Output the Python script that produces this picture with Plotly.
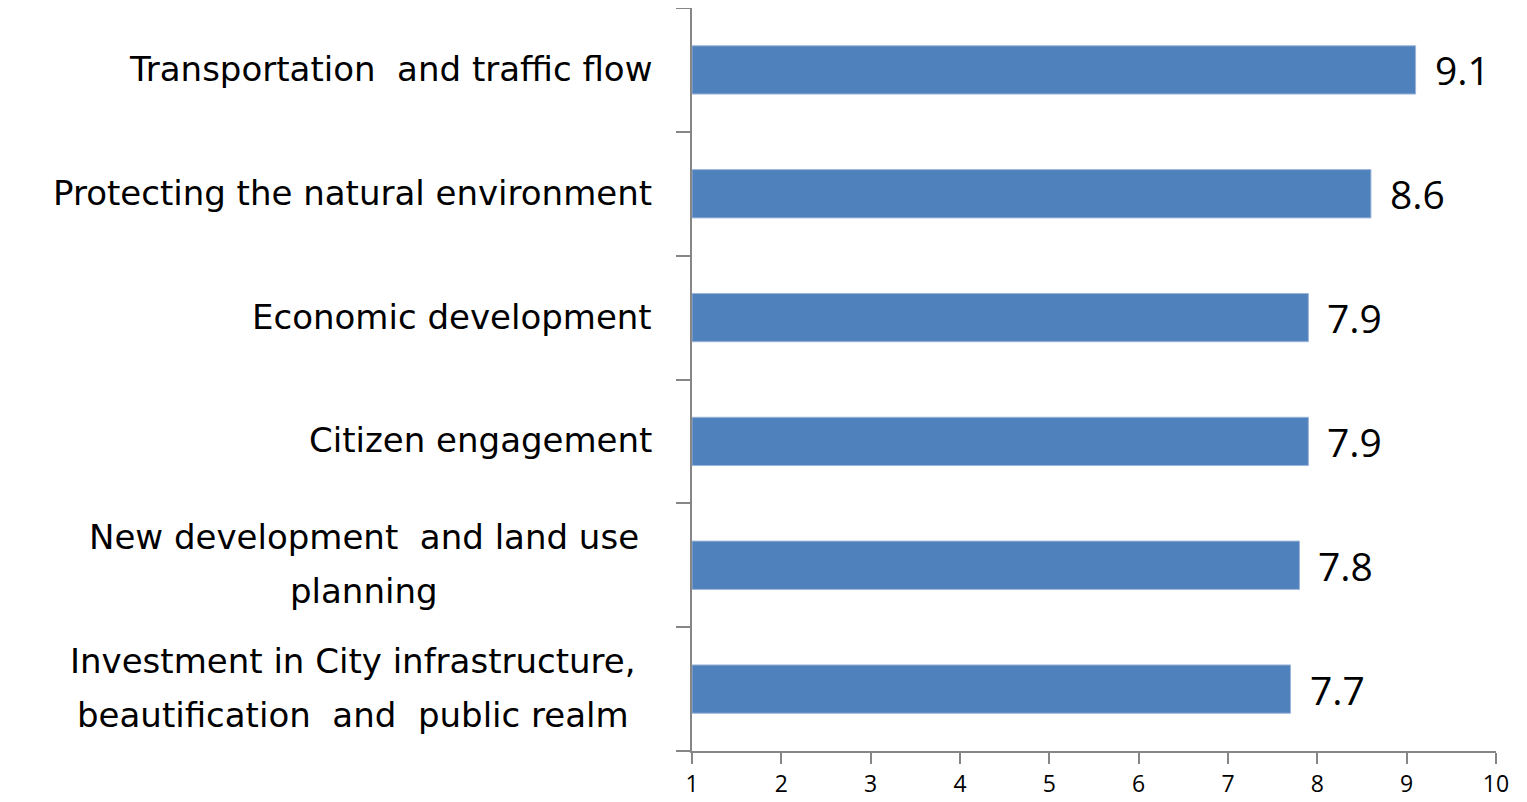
import plotly.graph_objects as go

categories = [
    "Investment in City infrastructure,<br>beautification  and  public realm",
    "New development  and land use<br>planning",
    "Citizen engagement",
    "Economic development",
    "Protecting the natural environment",
    "Transportation  and traffic flow",
]
values = [7.7, 7.8, 7.9, 7.9, 8.6, 9.1]
x_ticks = [1, 2, 3, 4, 5, 6, 7, 8, 9, 10]
AXIS_MIN = 1

LABEL_FONT = "DejaVu Sans"
FONT = "Open Sans"
BAR_COLOR = "#4F81BD"
AXIS_COLOR = "#868686"

# horizontal centre offsets (px from plot left edge) for wrapped labels
multi_line_centre = {0: -339, 1: -328}

fig = go.Figure()
fig.add_trace(go.Bar(
    x=[v - AXIS_MIN for v in values],
    y=list(range(len(categories))),
    base=AXIS_MIN,
    orientation="h",
    marker=dict(color=BAR_COLOR, line=dict(color="#9DB5D8", width=1)),
    hoverinfo="skip",
))

annotations = []
for i, v in enumerate(values):
    annotations.append(dict(
        x=v, y=i, xref="x", yref="y", text=f"{v:.1f}",
        showarrow=False, xanchor="left", yanchor="middle", xshift=17, yshift=0,
        font=dict(family=FONT, size=39, color="#000000"),
    ))
for i, c in enumerate(categories):
    lines = c.split("<br>")
    n = len(lines)
    for j, line in enumerate(lines):
        if n == 1:
            anchor, shift = "right", -38
        else:
            anchor, shift = "center", multi_line_centre[i]
        annotations.append(dict(
            x=0, y=i, xref="paper", yref="y", text=line,
            showarrow=False, xanchor=anchor, yanchor="middle",
            xshift=shift, yshift=(n - 1) * 27 - j * 54 + 1,
            font=dict(family=LABEL_FONT, size=34, color="#000000"),
        ))

fig.update_layout(
    width=1527, height=802,
    margin=dict(l=684, r=39, t=0, b=59),
    paper_bgcolor="white", plot_bgcolor="white",
    showlegend=False,
    bargap=0.61,
    annotations=annotations,
    xaxis=dict(
        range=[1, 10], tickvals=x_ticks, ticktext=[str(t) for t in x_ticks],
        showgrid=False, zeroline=False,
        showline=True, linecolor=AXIS_COLOR, linewidth=1.5,
        ticks="outside", ticklen=11, tickcolor=AXIS_COLOR, tickwidth=1.5,
        tickfont=dict(family=FONT, size=23, color="#000000"),
        ticklabelstandoff=1,
    ),
    yaxis=dict(
        range=[-0.5, len(categories) - 0.5],
        tickvals=[i - 0.5 for i in range(len(categories) + 1)],
        showticklabels=False,
        showgrid=False, zeroline=False,
        showline=True, linecolor=AXIS_COLOR, linewidth=1.5,
        ticks="outside", ticklen=14, tickcolor=AXIS_COLOR, tickwidth=1.5,
    ),
)

fig.write_html("out.html")
